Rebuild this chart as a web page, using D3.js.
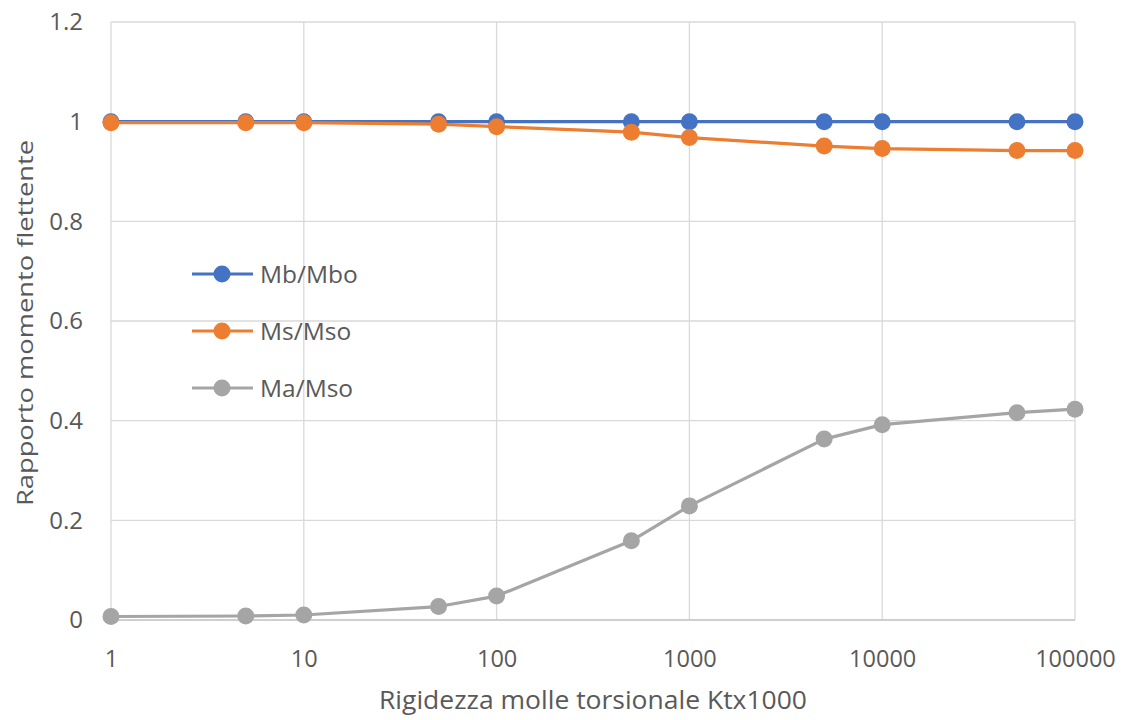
<!DOCTYPE html>
<html>
<head>
<meta charset="utf-8">
<script src="https://cdn.jsdelivr.net/npm/d3@7"></script>
<style>
  body { margin: 0; background: #fff; }
  svg { display: block; }
  text { fill: #595959; }
</style>
</head>
<body>
<svg id="chart" width="1129" height="720"></svg>
<script>
// Torsional spring stiffness (Ktx1000) and bending moment ratios
const stiffness = [1, 5, 10, 50, 100, 500, 1000, 5000, 10000, 50000, 100000];
const mbMbo = [1, 1, 1, 1, 1, 1, 1, 1, 1, 1, 1];
const msMso = [0.998, 0.998, 0.998, 0.995, 0.990, 0.979, 0.968, 0.951, 0.946, 0.942, 0.942];
const maMso = [0.007, 0.008, 0.010, 0.027, 0.048, 0.159, 0.229, 0.363, 0.392, 0.416, 0.423];
const seriesNames = ["Mb/Mbo", "Ms/Mso", "Ma/Mso"];
const seriesColors = ["#4472C4", "#ED7D31", "#A5A5A5"];
const xTicks = [1, 10, 100, 1000, 10000, 100000];
const yTicks = [0, 0.2, 0.4, 0.6, 0.8, 1, 1.2];

const svg = d3.select("#chart");
const W = 1129, H = 720;
const margin = { left: 111, right: W - 1075, top: 22, bottom: H - 620 };

const x = d3.scaleLog().domain([1, 100000]).range([margin.left, W - margin.right]);
const y = d3.scaleLinear().domain([0, 1.2]).range([H - margin.bottom, margin.top]);

const font = "'Open Sans', 'Noto Sans', sans-serif";

// Gridlines
svg.append("g").selectAll("line").data(yTicks.filter(d => d > 0)).join("line")
  .attr("x1", x(1)).attr("x2", x(100000))
  .attr("y1", d => y(d)).attr("y2", d => y(d))
  .attr("stroke", "#d9d9d9").attr("stroke-width", 1.3);
svg.append("g").selectAll("line").data(xTicks).join("line")
  .attr("x1", d => x(d)).attr("x2", d => x(d))
  .attr("y1", y(0)).attr("y2", y(1.2))
  .attr("stroke", "#d9d9d9").attr("stroke-width", 1.3);
// Baseline
svg.append("line")
  .attr("x1", x(1)).attr("x2", x(100000))
  .attr("y1", y(0)).attr("y2", y(0))
  .attr("stroke", "#bfbfbf").attr("stroke-width", 1.5);

// Y axis
const yAxis = d3.axisLeft(y).tickValues(yTicks).tickSize(0).tickPadding(28)
  .tickFormat(d => d3.format("~g")(d));
const gy = svg.append("g").attr("transform", `translate(${margin.left},0)`).call(yAxis);
gy.select(".domain").remove();
gy.selectAll("text").attr("font-family", font).attr("font-size", 24).style("fill", "#595959");

// X axis
const xAxis = d3.axisBottom(x).tickValues(xTicks).tickSize(0).tickPadding(0)
  .tickFormat(d => String(d));
const gx = svg.append("g").attr("transform", `translate(0,${y(0)})`).call(xAxis);
gx.select(".domain").remove();
gx.selectAll("text").attr("font-family", font).attr("font-size", 23.5)
  .attr("dy", null).attr("y", 47)
  .style("fill", "#595959");

// Axis titles
svg.append("text")
  .attr("transform", `translate(33, ${(y(0) + y(1.2)) / 2 + 2}) rotate(-90)`)
  .attr("text-anchor", "middle")
  .attr("font-family", font).attr("font-size", 22)
  .attr("textLength", 366).attr("lengthAdjust", "spacingAndGlyphs")
  .text("Rapporto momento flettente");
svg.append("text")
  .attr("x", (x(1) + x(100000)) / 2).attr("y", 709)
  .attr("text-anchor", "middle")
  .attr("font-family", font).attr("font-size", 25.5)
  .attr("textLength", 428).attr("lengthAdjust", "spacingAndGlyphs")
  .text("Rigidezza molle torsionale Ktx1000");

// Series lines with round markers
const allSeries = [mbMbo, msMso, maMso];
const line = d3.line().x((d, i) => x(stiffness[i])).y(d => y(d));
allSeries.forEach((values, k) => {
  const g = svg.append("g");
  g.append("path").datum(values)
    .attr("d", line).attr("fill", "none")
    .attr("stroke", seriesColors[k]).attr("stroke-width", 3.2)
    .attr("stroke-linejoin", "round");
  g.selectAll("circle").data(values).join("circle")
    .attr("cx", (d, i) => x(stiffness[i])).attr("cy", d => y(d))
    .attr("r", 8.5).attr("fill", seriesColors[k]);
});

// Legend
const legendY = [274, 331, 388];
const lg = svg.append("g");
seriesNames.forEach((name, k) => {
  lg.append("line").attr("x1", 192).attr("x2", 253)
    .attr("y1", legendY[k]).attr("y2", legendY[k])
    .attr("stroke", seriesColors[k]).attr("stroke-width", 3.2);
  lg.append("circle").attr("cx", 222).attr("cy", legendY[k]).attr("r", 8.5)
    .attr("fill", seriesColors[k]);
  lg.append("text").attr("x", 260).attr("y", legendY[k]).attr("dy", "0.35em")
    .attr("font-family", font).attr("font-size", 24.5).text(name);
});
</script>
</body>
</html>
